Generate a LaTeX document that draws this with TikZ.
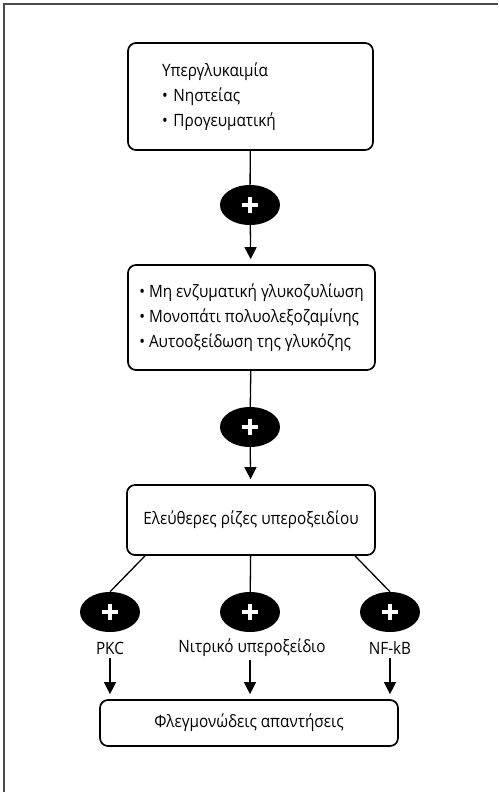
\documentclass[tikz,border=0pt]{standalone}
\usepackage{fontspec}
\setmainfont[FakeStretch=0.9]{Open Sans}
\usetikzlibrary{arrows.meta,shapes.geometric}

\tikzset{
  box/.style={draw, line width=1.7pt, rounded corners=8pt, inner ysep=0pt},
  plus/.style={ellipse, fill=black, minimum width=60pt, minimum height=40pt, inner sep=0pt,
    path picture={\draw[white, line width=3.6pt]
      ([xshift=-8pt]path picture bounding box.center) -- ([xshift=8pt]path picture bounding box.center)
      ([yshift=-8pt]path picture bounding box.center) -- ([yshift=8pt]path picture bounding box.center);}},
  link/.style={line width=1.3pt},
  arr/.style={line width=1.3pt, -{Triangle[length=12pt,width=12pt]}, shorten >=5pt},
}

\begin{document}
\begin{tikzpicture}[x=1pt, y=-1pt, every node/.style={font=\fontsize{17}{25}\selectfont}]
  \useasboundingbox (0,0) rectangle (498,792);

  % frame
  \draw[line width=2pt, black!70] (4,792) -- (4,4) -- (498,4);

  % hyperglycaemia
  \node[box, minimum width=245pt, minimum height=107pt, text width=177pt, inner xsep=34pt, align=left]
    (hyper) at (250.5,96.5) {Υπεργλυκαιμία\\\textbullet{} Νηστείας\\\textbullet{} Προγευματική};
  \node[plus] (p1) at (250,205) {};

  % pathways
  \node[box, minimum width=247pt, minimum height=105pt, inner xsep=4pt, align=left]
    (path) at (251.5,317.5) {\textbullet{} Μη ενζυματική γλυκοζυλίωση\\\textbullet{} Μονοπάτι πολυολεξοζαμίνης\\\textbullet{} Αυτοοξείδωση της γλυκόζης};
  \node[plus] (p2) at (250,427) {};

  % free radicals
  \node[box, minimum width=248pt, minimum height=70pt] (free) at (251,520) {Ελεύθερες ρίζες υπεροξειδίου};
  \node[plus] (p3) at (110,612) {};
  \node[plus] (p4) at (250,612) {};
  \node[plus] (p5) at (390,612) {};

  % mediators
  \node (pkc) at (110,648) {PKC};
  \node (no) at (252,648) {Νιτρικό υπεροξείδιο};
  \node (nfkb) at (390,648) {NF-kB};

  % response
  \node[box, minimum width=298pt, minimum height=46pt] (resp) at (249,723) {Φλεγμονώδεις απαντήσεις};

  % connectors
  \draw[link] (hyper) -- (p1);
  \draw[arr] (p1) -- (path);
  \draw[link] (path) -- (p2);
  \draw[arr] (p2) -- (free);
  \draw[link] ([xshift=-106pt]free.south) -- (p3.north);
  \draw[link] (free) -- (p4);
  \draw[link] ([xshift=104pt]free.south) -- (p5.north);
  \draw[arr] (pkc) -- (pkc |- resp.north);
  \draw[arr] (no.south -| p4) -- (p4 |- resp.north);
  \draw[arr] (nfkb) -- (nfkb |- resp.north);
\end{tikzpicture}
\end{document}
